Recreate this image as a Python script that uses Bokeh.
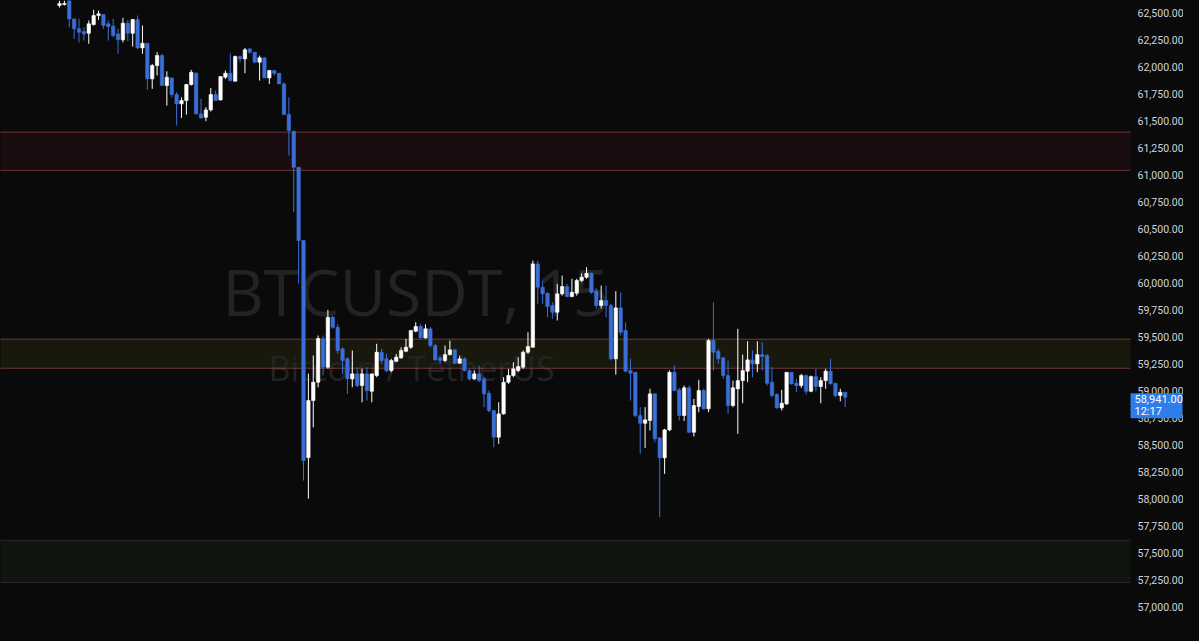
import numpy as np
from bokeh.plotting import figure
from bokeh.models import (LinearAxis, FixedTicker, NumeralTickFormatter, BoxAnnotation,
                          Label, Range1d, GlobalInlineStyleSheet, ColumnDataSource)
from bokeh.embed import file_html
from bokeh.resources import INLINE

# ---- BTCUSDT 15m candles ----
opens = [62574, 62583, 62620, 62450, 62358, 62333, 62317, 62397, 62481, 62490,
         62404, 62382, 62311, 62256, 62410, 62317, 62444, 62181, 62224, 61894,
         62017, 62110, 61832, 61903, 61748, 61662, 61693, 61841, 61946, 61569,
         61538, 61606, 61748, 61699, 61909, 61946, 61872, 62101, 62079, 62172,
         62141, 62048, 62089, 61903, 61971, 61946, 61847, 61563, 61408, 61074,
         60395, 58382, 58911, 59081, 59483, 59220, 59683, 59591, 59390, 59298,
         59112, 59158, 59050, 59158, 58997, 59143, 59359, 59298, 59189, 59275,
         59307, 59368, 59405, 59554, 59597, 59492, 59576, 59421, 59307, 59282,
         59337, 59381, 59257, 59298, 59189, 59112, 59158, 59112, 58979, 58818,
         58571, 58787, 59081, 59143, 59189, 59220, 59359, 59405, 60178, 59962,
         59906, 59792, 59730, 59900, 59968, 59875, 59906, 60024, 60054, 60091,
         59924, 59792, 59838, 59792, 59298, 59770, 59560, 59189, 59173, 58772,
         58700, 58726, 58973, 58565, 58380, 58639, 59173, 59010, 58772, 59029,
         58617, 58856, 59004, 58834, 59467, 59368, 59307, 59143, 58865, 59020,
         59096, 59183, 59288, 59251, 59337, 59328, 59081, 58967, 58843, 58880,
         59173, 59071, 59050, 59143, 58997, 59133, 59041, 59096, 59183, 59071,
         58957, 58988]
highs = [62620, 62620, 62625, 62450, 62450, 62372, 62435, 62534, 62527, 62490,
         62435, 62450, 62358, 62460, 62441, 62450, 62481, 62388, 62224, 62033,
         62141, 62126, 61964, 61903, 61770, 61723, 61847, 61977, 61955, 61708,
         61631, 61810, 61785, 61915, 61971, 62131, 62110, 62110, 62181, 62172,
         62141, 62110, 62094, 61977, 61971, 61946, 61862, 61723, 61408, 61074,
         60395, 59161, 59328, 59514, 59514, 59752, 59699, 59622, 59405, 59313,
         59375, 59220, 59205, 59220, 59158, 59437, 59390, 59344, 59298, 59344,
         59405, 59483, 59566, 59637, 59622, 59618, 59591, 59437, 59328, 59421,
         59467, 59390, 59328, 59313, 59205, 59189, 59236, 59127, 59003, 58825,
         58895, 59127, 59205, 59266, 59313, 59375, 59544, 60209, 60209, 60024,
         59915, 59823, 59993, 60070, 59993, 60040, 60040, 60091, 60147, 60100,
         59950, 59977, 59977, 59808, 59925, 59915, 59637, 59298, 59173, 58849,
         58849, 59020, 58979, 58571, 58648, 59189, 59236, 59029, 59050, 59050,
         58926, 59103, 59020, 59483, 59822, 59390, 59313, 59282, 59096, 59576,
         59337, 59461, 59375, 59461, 59452, 59344, 59220, 58979, 59010, 59173,
         59173, 59112, 59158, 59152, 59143, 59205, 59127, 59205, 59298, 59071,
         59020, 58988]
lows = [62555, 62574, 62372, 62265, 62233, 62249, 62219, 62388, 62441, 62358,
        62249, 62280, 62126, 62233, 62243, 62193, 62172, 62126, 61792, 61801,
        61925, 61832, 61646, 61723, 61461, 61532, 61563, 61832, 61569, 61523,
        61501, 61591, 61693, 61693, 61894, 61872, 61872, 62048, 61946, 62126,
        62039, 61878, 61903, 61847, 61925, 61847, 61563, 61183, 60657, 59996,
        58169, 58002, 58663, 59034, 59143, 59205, 59576, 59344, 59158, 58973,
        59034, 59034, 58895, 58911, 58895, 59127, 59251, 59173, 59173, 59267,
        59298, 59359, 59390, 59544, 59483, 59483, 59405, 59282, 59251, 59266,
        59328, 59251, 59251, 59180, 59096, 59103, 59081, 58849, 58803, 58478,
        58509, 58780, 59066, 59127, 59173, 59205, 59344, 59405, 59808, 59808,
        59683, 59668, 59653, 59884, 59869, 59869, 59884, 60008, 60040, 59900,
        59764, 59764, 59683, 59282, 59152, 59514, 59173, 58911, 58756, 58417,
        58472, 58633, 58524, 57829, 58231, 58627, 58997, 58726, 58720, 58608,
        58577, 58803, 58825, 58803, 59189, 59251, 59112, 58787, 58849, 58602,
        58886, 59081, 59127, 59173, 59189, 59050, 58941, 58834, 58818, 58870,
        59060, 58988, 59029, 58967, 58988, 58997, 58886, 59020, 59060, 58941,
        58904, 58849]
closes = [62592, 62592, 62450, 62358, 62326, 62311, 62404, 62481, 62497, 62388,
          62379, 62295, 62256, 62410, 62317, 62444, 62181, 62224, 61894, 62017,
          62110, 61832, 61909, 61748, 61662, 61693, 61841, 61955, 61569, 61532,
          61606, 61748, 61693, 61915, 61946, 61878, 62101, 62079, 62163, 62141,
          62048, 62089, 61903, 61971, 61946, 61847, 61563, 61415, 61074, 60395,
          58354, 58911, 59081, 59486, 59220, 59683, 59591, 59375, 59282, 59112,
          59158, 59050, 59158, 59004, 59158, 59359, 59282, 59189, 59282, 59313,
          59375, 59405, 59560, 59597, 59492, 59576, 59421, 59288, 59282, 59337,
          59381, 59257, 59298, 59189, 59112, 59158, 59096, 58973, 58818, 58571,
          58787, 59081, 59143, 59205, 59226, 59359, 59412, 60178, 59962, 59900,
          59783, 59730, 59900, 59968, 59875, 59915, 60024, 60054, 60091, 59915,
          59792, 59838, 59792, 59298, 59770, 59544, 59183, 59164, 58772, 58700,
          58732, 58973, 58556, 58380, 58639, 59173, 59004, 58772, 59029, 58617,
          58865, 59004, 58834, 59467, 59359, 59298, 59143, 58865, 59029, 59096,
          59189, 59288, 59251, 59337, 59319, 59071, 58957, 58843, 58886, 59173,
          59066, 59050, 59143, 58997, 59133, 59041, 59096, 59183, 59066, 58957,
          58988, 58941]

price_ticks = list(range(56750, 62501, 250))

# horizontal zones (bottom, top)
zone_bottoms = [61045, 59210, 57225]
zone_tops = [61400, 59480, 57615]

last_price = 58941
countdown = "12:17"
watermark = "BTCUSDT, 15"
watermark_sub = "Bitcoin / TetherUS"

# ---- styles / layout ----
BG = "#0a0a0a"
UP = "#ffffff"
DOWN = "#3a6fd8"
TAG = "#2f7ded"
zone_fills = ["#1b0c0f", "#19180c", "#0f140f"]
zone_lines = ["#b05a62", "#c0605f", "#474c47"]

W, H = 1183, 625
PANE_W = 1130            # width of the candle pane; the price scale sits to its right
BAR_PX = 4.88            # pixels per bar
FIRST_PX = 59            # pixel position of the first bar
Y_TOP, Y_BOT = 62620.5, 56825.0

x0 = -FIRST_PX / BAR_PX
x1 = x0 + W / BAR_PX
x_pane = x0 + PANE_W / BAR_PX
ppx = (Y_TOP - Y_BOT) / H   # price per pixel

n = len(opens)
idx = np.arange(n)
o = np.array(opens, dtype=float)
c = np.array(closes, dtype=float)
h = np.array(highs, dtype=float)
l = np.array(lows, dtype=float)
colors = np.where(c >= o, UP, DOWN)

src = ColumnDataSource(dict(x=idx, top=np.maximum(o, c), bottom=np.minimum(o, c),
                            high=h, low=l, color=colors))

p = figure(width=W, height=H,
           x_range=Range1d(x0, x1), y_range=Range1d(Y_BOT, Y_TOP),
           output_backend="svg", toolbar_location=None,
           x_axis_location=None, y_axis_location=None,
           min_border_left=0, min_border_top=0, min_border_bottom=0, min_border_right=0,
           background_fill_color=BG, border_fill_color=BG, outline_line_color=None)
p.xgrid.visible = False
p.ygrid.visible = False
p.stylesheets = [GlobalInlineStyleSheet(css="body{background-color:#0a0a0a;}")]

# zone fills (limited to the candle pane)
for b, t, fc in zip(zone_bottoms, zone_tops, zone_fills):
    p.add_layout(BoxAnnotation(left=x0 - 50, right=x_pane, bottom=b, top=t,
                               fill_color=fc, fill_alpha=1.0, line_color=None,
                               level="underlay"))

# watermark
p.add_layout(Label(x=222, y=334, x_units="screen", y_units="screen", text=watermark,
                   text_font="Open Sans", text_font_size="64px", text_color="#232323",
                   text_baseline="alphabetic", level="underlay"))
p.add_layout(Label(x=268, y=258, x_units="screen", y_units="screen", text=watermark_sub,
                   text_font="Open Sans", text_font_size="34px", text_color="#232323",
                   text_baseline="alphabetic", level="underlay"))

# zone borders (degenerate boxes = horizontal lines ending at the price scale)
for b, t, lc in zip(zone_bottoms, zone_tops, zone_lines):
    for loc in (b, t):
        p.add_layout(BoxAnnotation(left=x0 - 50, right=x_pane, bottom=loc, top=loc,
                                   fill_alpha=0, line_color=lc, line_width=1,
                                   level="underlay"))

# candles
p.segment(x0="x", y0="high", x1="x", y1="low", color="color", line_width=1, source=src)
p.vbar(x="x", width=0.7, top="top", bottom="bottom", fill_color="color",
       line_color="color", line_width=0.6, source=src)

# price scale, placed at the right edge of the candle pane
ax = LinearAxis(ticker=FixedTicker(ticks=price_ticks),
                formatter=NumeralTickFormatter(format="0,0.00"),
                fixed_location=x_pane,
                axis_line_color=None, major_tick_line_color=None, minor_tick_line_color=None,
                major_tick_out=0, major_tick_in=0, major_label_standoff=7,
                major_label_text_color="#d1d4dc", major_label_text_font="Roboto",
                major_label_text_font_size="10.5px")
p.add_layout(ax, "right")

# last price tag
p.add_layout(BoxAnnotation(left=PANE_W, right=PANE_W + 52, left_units="screen",
                           right_units="screen",
                           top=last_price + 4 * ppx, bottom=last_price - 21 * ppx,
                           fill_color=TAG, fill_alpha=1.0, line_color=None,
                           level="overlay"))
p.add_layout(Label(x=PANE_W + 4, y=last_price - 2 * ppx, x_units="screen",
                   text=f"{last_price:,.2f}",
                   text_font="Roboto", text_font_size="11px", text_color="#ffffff",
                   text_baseline="middle", text_align="left", level="overlay"))
p.add_layout(Label(x=PANE_W + 4, y=last_price - 14 * ppx, x_units="screen",
                   text=countdown,
                   text_font="Roboto", text_font_size="11px", text_color="#ffffff",
                   text_baseline="middle", text_align="left", level="overlay"))

open("out.html", "w").write(file_html(p, INLINE))
